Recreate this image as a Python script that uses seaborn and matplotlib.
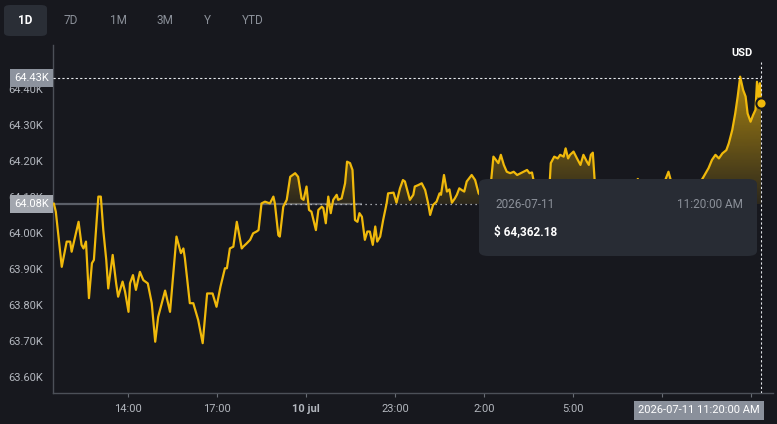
import numpy as np
import pandas as pd
import matplotlib
matplotlib.use("Agg")
import matplotlib.pyplot as plt
import seaborn as sns
from matplotlib.patches import FancyBboxPatch
from matplotlib.path import Path
from matplotlib.colors import to_rgb
from matplotlib.transforms import blended_transform_factory

# --- Data (minutes since 9 jul 11:20, price in USD) ---
minutes = [10, 14, 26, 36, 43, 46, 53, 60, 66, 70, 75, 81, 87, 91, 100, 105, 110, 116, 120, 129,
           136, 140, 149, 154, 161, 164, 170, 176, 184, 191, 200, 208, 215, 221, 235, 245, 258, 267, 272, 275,
           285, 292, 302, 311, 320, 331, 339, 347, 356, 360, 366, 373, 380, 390, 393, 400, 407, 413, 420, 424,
           430, 437, 447, 454, 457, 464, 467, 474, 481, 488, 498, 504, 511, 515, 521, 526, 531, 540, 545, 552,
           555, 560, 565, 570, 575, 582, 585, 592, 599, 603, 609, 614, 619, 624, 628, 633, 639, 644, 649, 655,
           660, 664, 670, 676, 683, 686, 697, 703, 710, 716, 720, 730, 737, 740, 747, 754, 761, 767, 771, 777,
           784, 790, 793, 799, 805, 810, 815, 821, 825, 830, 835, 840, 845, 855, 862, 869, 876, 886, 894, 899,
           909, 914, 920, 926, 933, 940, 947, 954, 960, 967, 972, 977, 984, 994, 1005, 1013, 1015, 1022, 1029, 1034,
           1041, 1045, 1050, 1054, 1061, 1068, 1075, 1081, 1088, 1092, 1096, 1100, 1104, 1115, 1129, 1145, 1159, 1175, 1191, 1206,
           1220, 1236, 1246, 1253, 1259, 1273, 1289, 1305, 1317, 1324, 1334, 1341, 1348, 1355, 1362, 1370, 1375, 1382, 1388, 1393,
           1398, 1404, 1409, 1413, 1419, 1424, 1429, 1432, 1435, 1438, 1440]
price = [64082, 64059, 63906, 63976, 63976, 63948, 63990, 64031, 63967, 63957, 63976, 63819, 63916, 63925, 64101, 64101, 64008, 63925, 63846, 63939,
         63860, 63823, 63865, 63837, 63781, 63860, 63883, 63842, 63892, 63869, 63860, 63805, 63698, 63767, 63840, 63781, 63990, 63944, 63957, 63930,
         63805, 63805, 63758, 63694, 63832, 63832, 63795, 63851, 63902, 63902, 63957, 63962, 64031, 63957, 63962, 63971, 63981, 63999, 64004, 64008,
         64082, 64087, 64082, 64101, 64082, 63994, 63990, 64073, 64092, 64156, 64166, 64156, 64096, 64092, 64129, 64064, 64059, 64008, 64064, 64073,
         64069, 64027, 64101, 64055, 64092, 64106, 64092, 64096, 64138, 64198, 64194, 64175, 64036, 64031, 64055, 64045, 63981, 64004, 64004, 63967,
         64018, 63976, 63990, 64036, 64082, 64110, 64112, 64084, 64124, 64147, 64143, 64092, 64106, 64129, 64133, 64138, 64119, 64082, 64050, 64078,
         64087, 64110, 64106, 64161, 64115, 64121, 64084, 64096, 64106, 64124, 64119, 64115, 64143, 64161, 64147, 64110, 64100, 64125, 64140, 64212,
         64194, 64217, 64189, 64170, 64166, 64170, 64161, 64166, 64170, 64175, 64166, 64168, 64120, 64095, 64110, 64145, 64194, 64212, 64207, 64217,
         64212, 64235, 64207, 64217, 64226, 64207, 64189, 64217, 64198, 64189, 64217, 64223, 64140, 64100, 64080, 64060, 64085, 64110, 64150, 64110,
         64090, 64120, 64145, 64170, 64140, 64110, 64095, 64120, 64140, 64156, 64180, 64203, 64217, 64207, 64221, 64230, 64249, 64286, 64332, 64379,
         64434, 64397, 64379, 64332, 64309, 64327, 64342, 64420, 64379, 64416, 64362.18]
assert len(minutes) == len(price)

baseline = 64080
crosshair_value = 64430
last_price = 64362.18

ytick_values = [63600, 63700, 63800, 63900, 64000, 64100, 64200, 64300, 64400]
ytick_labels = ["63.60K", "63.70K", "63.80K", "63.90K", "64.00K", "64.10K", "64.20K", "64.30K", "64.40K"]
# 8:00 and 11:00 sit under the time tag, so they show no text
xtick_values = [160, 340, 520, 700, 880, 1060, 1240, 1420]
xtick_labels = ["14:00", "17:00", "10 jul", "23:00", "2:00", "5:00", "", ""]
range_buttons = ["1D", "7D", "1M", "3M", "Y", "YTD"]

# --- Style ---
BG = "#17181e"
YELLOW = "#f0b90b"
GREY_TXT = "#8b9099"
TICK_TXT = "#b3b7be"

sns.set_theme(style="dark", rc={"figure.facecolor": BG, "axes.facecolor": BG})
plt.rcParams["font.family"] = ["Roboto", "DejaVu Sans"]

W, H = 777, 424
fig = plt.figure(figsize=(W / 100, H / 100), dpi=100)
ax = fig.add_axes([53 / W, 31 / H, 720 / W, 348 / H])

df = pd.DataFrame({"minute": minutes, "price": price})
sns.lineplot(data=df, x="minute", y="price", color=YELLOW, linewidth=1.6, ax=ax, zorder=4)

xmin, xmax = 8.3, 1464.4
ymin, ymax = 63555.6, 64522
ax.set_xlim(xmin, xmax)
ax.set_ylim(ymin, ymax)

# gradient fill above the baseline
x = np.array(minutes, dtype=float)
y = np.array(price, dtype=float)
poly = ax.fill_between(x, y, baseline, where=y > baseline, interpolate=True, alpha=0)
clip = Path.make_compound_path(*poly.get_paths())
r, g, b = to_rgb(YELLOW)
n = 256
grad = np.zeros((n, 1, 4))
grad[..., 0], grad[..., 1], grad[..., 2] = r, g, b
grad[:, 0, 3] = np.linspace(0.68, 0.1, n)
im = ax.imshow(grad, extent=[xmin, xmax, baseline, 64440], aspect="auto", origin="upper", zorder=3)
im.set_clip_path(clip, ax.transData)

# baseline and crosshair lines
ax.hlines(baseline, xmin, 633, color="#5b5f68", linewidth=1.6, zorder=2)
ax.hlines(baseline, 478, 870, color="#c9ccd2", linewidth=0.9, linestyles=(0, (1, 3)), zorder=2)
ax.hlines(crosshair_value, xmin, 1440, color="#e6e8ec", linewidth=0.8, linestyles=(0, (2, 2)), zorder=5)
ax.vlines(1440, ymin, 64475, color="#e6e8ec", linewidth=0.8, linestyles=(0, (2, 2)), zorder=5)
ax.scatter([1440], [last_price], s=55, color=YELLOW, edgecolor=BG, linewidth=1.5, zorder=6)

# axes
ax.set_xlabel("")
ax.set_ylabel("")
ax.grid(False)
for side in ["top", "right"]:
    ax.spines[side].set_visible(False)
for side in ["left", "bottom"]:
    ax.spines[side].set_visible(True)
    ax.spines[side].set_color("#4c5058")
    ax.spines[side].set_linewidth(1)
ax.set_yticks(ytick_values)
ax.set_yticklabels(ytick_labels)
ax.set_xticks(xtick_values)
ax.set_xticklabels(xtick_labels)
ax.tick_params(axis="y", length=0, pad=7, labelsize=8, labelcolor=TICK_TXT)
ax.tick_params(axis="x", length=3, width=0.8, color="#6a6e76", pad=5, labelsize=8, labelcolor=TICK_TXT, bottom=True)
for lbl in ax.get_xticklabels():
    if lbl.get_text() == "10 jul":
        lbl.set_fontweight("bold")

# value tags on the y axis
trans = blended_transform_factory(ax.transAxes, ax.transData)
ax.text(-0.006, crosshair_value, "64.43K", transform=trans, ha="right", va="center", fontsize=8,
        color="white", zorder=10, clip_on=False,
        bbox=dict(boxstyle="square,pad=0.35", fc="#8d939e", ec="none"))
ax.text(-0.006, baseline, "64.08K", transform=trans, ha="right", va="center", fontsize=8,
        color="white", zorder=10, clip_on=False,
        bbox=dict(boxstyle="square,pad=0.35", fc="#a2a6ae", ec="none"))

# time tag at the bottom
transx = blended_transform_factory(ax.transData, ax.transAxes)
ax.text(1440 - 2, -0.035, "2026-07-11 11:20:00 AM", transform=transx, ha="right", va="top", fontsize=8,
        color="white", zorder=10, clip_on=False,
        bbox=dict(boxstyle="square,pad=0.4", fc="#8a909b", ec="none"))

# tooltip
def fx(px):
    return px / W

def fy(py):
    return 1 - py / H

tip = FancyBboxPatch((fx(479), fy(256)), fx(757) - fx(479), fy(179) - fy(256),
                     boxstyle="round,pad=0,rounding_size=0.012", transform=fig.transFigure,
                     fc="#282c34", ec="none", zorder=20)
fig.patches.append(tip)
fig.text(fx(495), fy(205), "2026-07-11", color=GREY_TXT, fontsize=8.5, va="center", zorder=21)
fig.text(fx(743), fy(205), "11:20:00 AM", color=GREY_TXT, fontsize=8.5, va="center", ha="right", zorder=21)
fig.text(fx(494), fy(232), "$ 64,362.18", color="white", fontsize=8.5, fontweight="bold", va="center", zorder=21)

# range buttons
btn = FancyBboxPatch((fx(4), fy(36)), fx(47) - fx(4), fy(5) - fy(36),
                     boxstyle="round,pad=0,rounding_size=0.008", transform=fig.transFigure,
                     fc="#2a2e36", ec="none", zorder=1)
fig.patches.append(btn)
btn_x = [25, 71, 118, 165, 207, 253]
for label, bx in zip(range_buttons, btn_x):
    active = label == "1D"
    fig.text(fx(bx), fy(21), label, ha="center", va="center", fontsize=8.5,
             color="white" if active else GREY_TXT, fontweight="bold" if active else "normal")

fig.text(fx(742), fy(53), "USD", ha="center", va="center", fontsize=8, color="white", fontweight="bold")

fig.savefig("out.png", dpi=100, facecolor=BG)
